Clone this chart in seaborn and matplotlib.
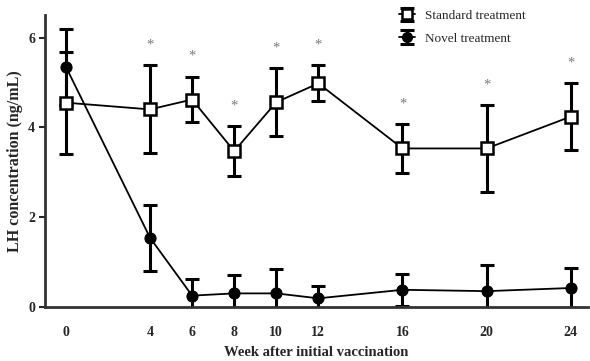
import numpy as np
import pandas as pd
import matplotlib
matplotlib.use("Agg")
import matplotlib.pyplot as plt
from matplotlib.lines import Line2D
import seaborn as sns

sns.set_style("ticks")
plt.rcParams['font.family'] = ['Liberation Serif', 'DejaVu Serif']

# data
weeks = [0, 4, 6, 8, 10, 12, 16, 20, 24]
std_mean = [4.55, 4.40, 4.62, 3.47, 4.56, 4.98, 3.53, 3.53, 4.24]
std_err = [1.14, 0.98, 0.51, 0.55, 0.76, 0.40, 0.55, 0.96, 0.74]
nov_mean = [5.35, 1.54, 0.25, 0.30, 0.30, 0.19, 0.38, 0.35, 0.42]
nov_err = [0.85, 0.73, 0.38, 0.41, 0.55, 0.28, 0.36, 0.59, 0.45]
star_weeks = [4, 6, 8, 10, 12, 16, 20, 24]

df = pd.DataFrame({
    'week': weeks * 2,
    'lh': std_mean + nov_mean,
    'group': ['Standard treatment'] * len(weeks) + ['Novel treatment'] * len(weeks),
})

fig = plt.figure(figsize=(5.9, 3.61), dpi=100)
ax = fig.add_axes([0.076, 0.150, 0.92, 0.808])

# error bars first, lines and markers on top
eb_std = ax.errorbar(weeks, std_mean, yerr=std_err, fmt='none', ecolor='black',
                     elinewidth=2.2, capsize=5, capthick=2.2, zorder=2)
eb_nov = ax.errorbar(weeks, nov_mean, yerr=nov_err, fmt='none', ecolor='black',
                     elinewidth=2.2, capsize=5, capthick=2.2, zorder=2)

n_before = len(ax.lines)
sns.lineplot(data=df, x='week', y='lh', hue='group', style='group',
             markers={'Standard treatment': 's', 'Novel treatment': 'o'},
             dashes=False, palette=['black', 'black'], linewidth=1.3,
             markersize=8, legend=False, ax=ax, zorder=3)
line_std, line_nov = ax.lines[n_before:n_before + 2]
line_std.set_markerfacecolor('white')
line_std.set_markeredgecolor('black')
line_std.set_markeredgewidth(1.8)
line_std.set_markersize(9)
line_nov.set_markerfacecolor('black')
line_nov.set_markeredgecolor('black')

# significance stars above standard treatment bars
for w in star_weeks:
    i = weeks.index(w)
    ax.text(w, std_mean[i] + std_err[i] + 0.45, '*', color='#7a7a7a',
            ha='center', va='center', fontsize=10.5)

ax.set_xlim(-1.0, 24.8)
ax.set_ylim(0, 6.5)
ax.set_xticks(weeks)
ax.set_yticks([0, 2, 4, 6])
ax.tick_params(axis='x', length=0, pad=14, labelsize=10)
ax.tick_params(axis='y', length=4, width=1.5, pad=3, labelsize=10)
for lab in ax.get_xticklabels() + ax.get_yticklabels():
    lab.set_fontweight('bold')
ax.set_xlabel('Week after initial vaccination', fontsize=10.5, fontweight='bold', labelpad=5)
ax.set_ylabel('LH concentration (ng/mL)', fontsize=11.5, fontweight='bold', labelpad=4)

sns.despine(ax=ax)
for s in ['left', 'bottom']:
    ax.spines[s].set_linewidth(2)
    ax.spines[s].set_color('#333333')

# legend proxies: small marker on a short line, with the error bar behind
leg_std = Line2D([], [], color='black', lw=1.3, marker='s', markersize=7,
                 markerfacecolor='white', markeredgecolor='black', markeredgewidth=1.8)
leg_nov = Line2D([], [], color='black', lw=1.3, marker='o', markersize=7,
                 markerfacecolor='black', markeredgecolor='black')
ax.legend([(eb_std, leg_std), (eb_nov, leg_nov)],
          ['Standard treatment', 'Novel treatment'],
          loc='upper left', bbox_to_anchor=(0.63, 1.06), frameon=False,
          fontsize=9.5, labelspacing=0.8, handlelength=1.2, handletextpad=0.8)

fig.savefig('out.png', dpi=100)
